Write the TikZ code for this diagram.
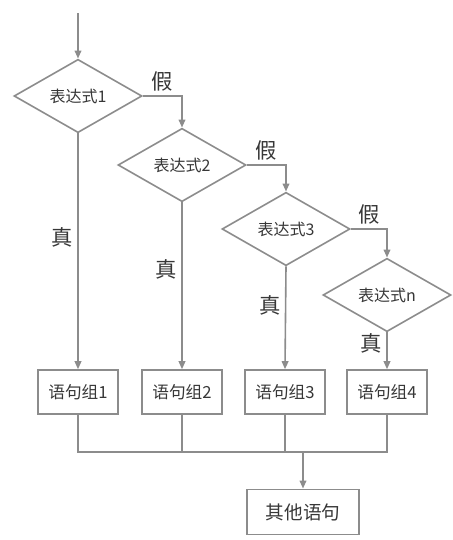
\documentclass[tikz,border=0pt]{standalone}
\usepackage{fontspec}
\setmainfont{Noto Sans CJK SC}
\usetikzlibrary{shapes.geometric,arrows.meta}
\definecolor{linegray}{RGB}{140,140,140}
\definecolor{textgray}{RGB}{55,55,55}
\tikzset{
  cond/.style={diamond, draw=linegray, line width=1.2pt, aspect=1.75,
    minimum width=96pt, minimum height=55pt, inner sep=0pt,
    text=textgray, font=\fontsize{12}{14}\selectfont},
  stmt/.style={rectangle, draw=linegray, line width=1.2pt,
    minimum width=60pt, minimum height=33pt, inner sep=2pt,
    text=textgray, font=\fontsize{12.5}{15}\selectfont},
  link/.style={draw=linegray, line width=1.2pt},
  flow/.style={link, -{Triangle[length=6pt,width=5pt]}},
  lbl/.style={text=textgray, font=\fontsize{16}{18}\selectfont}
}
\begin{document}
\begin{tikzpicture}[x=0.75pt,y=-0.75pt]
\useasboundingbox (0,0) rectangle (453,540);
% conditions
\coordinate (start) at (78,13);
\node[cond] (e1) at (78,96) {表达式1};
\node[cond] (e2) at (182,165) {表达式2};
\node[cond] (e3) at (286,229) {表达式3};
\node[cond] (en) at (387,295) {表达式n};
% statement groups
\node[stmt] (g1) at (78,392) {语句组1};
\node[stmt] (g2) at (182,392) {语句组2};
\node[stmt] (g3) at (285,392) {语句组3};
\node[stmt] (g4) at (387,392) {语句组4};
\node[stmt, minimum width=84pt, minimum height=34pt, font=\fontsize{14}{17}\selectfont] (other) at (303,512) {其他语句};
\coordinate (join) at (303,452);

\draw[flow] (start) -- (e1);
\draw[flow] (e1.east) -| node[lbl, pos=0.25, above] (f1) {假} (e2.north);
\draw[flow] (e2.east) -| node[lbl, pos=0.25, above] (f2) {假} (e3.north);
\draw[flow] (e3.east) -| node[lbl, pos=0.25, above] (f3) {假} (en.north);

\draw[flow] (e1.south) -- node[lbl, pos=0.44, left] (t1) {真} (g1.north);
\draw[flow] (e2.south) -- node[lbl, pos=0.40, left] (t2) {真} (g2.north);
\draw[flow] (e3.south) -- node[lbl, pos=0.38, left] (t3) {真} (g3.north);
\draw[flow] (en.south) -- node[lbl, pos=0.30, left] (tn) {真} (g4.north);

% merge
\draw[link] (g1.south) |- (g4.south |- join) -- (g4.south);
\draw[link] (g2.south) -- (g2.south |- join);
\draw[link] (g3.south) -- (g3.south |- join);
\draw[flow] (join) -- (other.north);
\end{tikzpicture}
\end{document}
